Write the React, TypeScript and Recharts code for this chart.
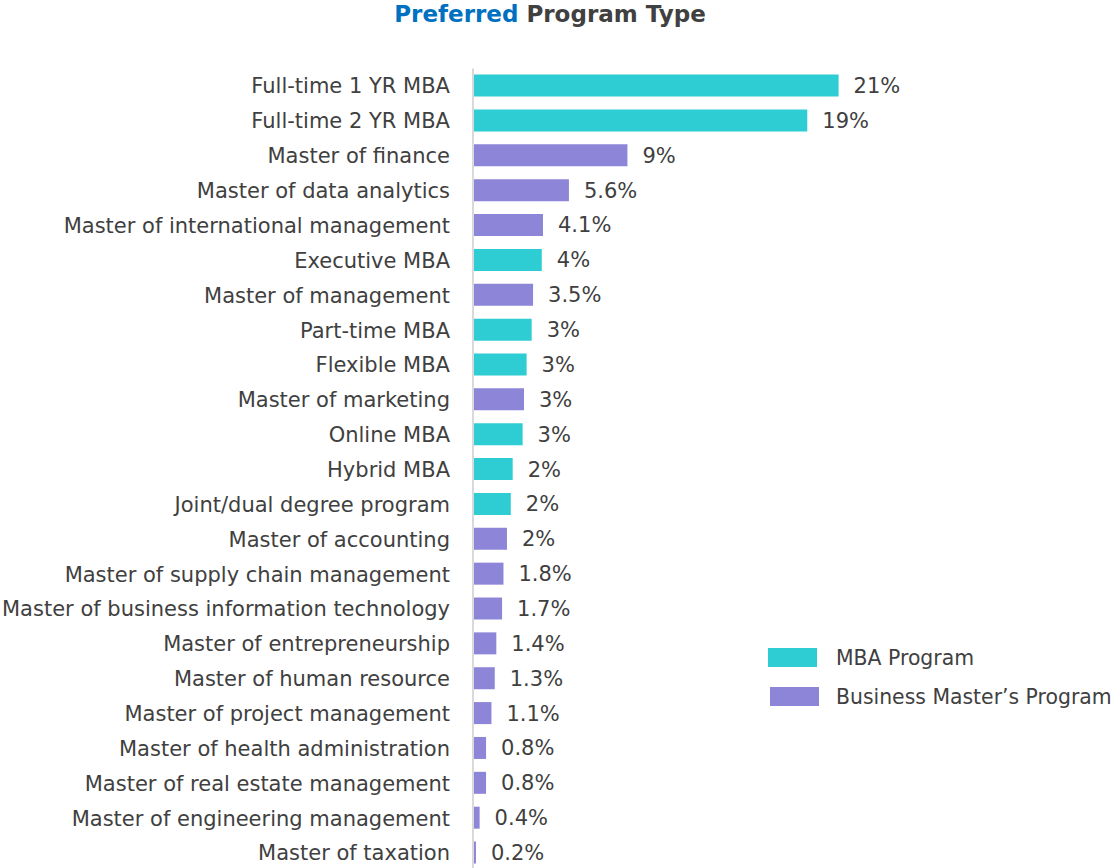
import { BarChart, Bar, XAxis, YAxis, Cell, LabelList } from "recharts";

// Categories, top to bottom
const programs = [
  "Full-time 1 YR MBA",
  "Full-time 2 YR MBA",
  "Master of finance",
  "Master of data analytics",
  "Master of international management",
  "Executive MBA",
  "Master of management",
  "Part-time MBA",
  "Flexible MBA",
  "Master of marketing",
  "Online MBA",
  "Hybrid MBA",
  "Joint/dual degree program",
  "Master of accounting",
  "Master of supply chain management",
  "Master of business information technology",
  "Master of entrepreneurship",
  "Master of human resource",
  "Master of project management",
  "Master of health administration",
  "Master of real estate management",
  "Master of engineering management",
  "Master of taxation",
];

// share (%)
const shares = [
  21.0, 19.2, 8.87, 5.51, 4.02, 3.95, 3.45, 3.37, 3.08, 2.93, 2.85, 2.28,
  2.17, 1.95, 1.75, 1.67, 1.34, 1.25, 1.06, 0.75, 0.75, 0.38, 0.17,
];

// printed labels
const shareLabels = [
  "21%", "19%", "9%", "5.6%", "4.1%", "4%", "3.5%", "3%", "3%", "3%", "3%", "2%",
  "2%", "2%", "1.8%", "1.7%", "1.4%", "1.3%", "1.1%", "0.8%", "0.8%", "0.4%", "0.2%",
];

// "mba" or "master"
const programGroup = [
  "mba", "mba", "master", "master", "master", "mba", "master", "mba", "mba", "master", "mba", "mba",
  "mba", "master", "master", "master", "master", "master", "master", "master", "master", "master", "master",
];

const COLORS: Record<string, string> = {
  mba: "#2ECCD3",
  master: "#8C85D8",
};

const FONT = "'DejaVu Sans', Verdana, sans-serif";
const TEXT = "#404040";

const data = programs.map((name, i) => ({
  name,
  value: shares[i],
  label: shareLabels[i],
  group: programGroup[i],
}));

function LegendBox() {
  const items = [
    { label: "MBA Program", color: COLORS.mba, dx: 0 },
    { label: "Business Master’s Program", color: COLORS.master, dx: 2 },
  ];
  return (
    <div style={{ position: "absolute", left: 768, top: 638, fontFamily: FONT, fontSize: 20.4, color: TEXT }}>
      {items.map((it) => (
        <div key={it.label} style={{ display: "flex", alignItems: "center", height: 39 }}>
          <div style={{ width: 49, height: 19, background: it.color, marginLeft: it.dx, marginRight: 19 - it.dx }} />
          <span style={{ whiteSpace: "nowrap" }}>{it.label}</span>
        </div>
      ))}
    </div>
  );
}

export default function App() {
  return (
    <div style={{ position: "absolute", left: 0, top: 0, width: 1116, height: 880, background: "#fff", overflow: "hidden" }}>
      <div
        style={{
          position: "absolute",
          top: 0,
          left: 0,
          width: 1100,
          textAlign: "center",
          fontFamily: FONT,
          fontWeight: "bold",
          fontSize: 23,
          lineHeight: "28px",
          color: TEXT,
        }}
      >
        <span style={{ color: "#0070C0" }}>Preferred</span> Program Type
      </div>
      <BarChart
        width={1116}
        height={880}
        layout="vertical"
        data={data}
        margin={{ top: 68.6, right: 120.7, bottom: 9.6, left: 0 }}
        barSize={22}
      >
        <XAxis type="number" domain={[0, 30]} hide />
        <YAxis
          type="category"
          dataKey="name"
          width={473}
          tickLine={false}
          tickSize={0}
          tickMargin={23}
          axisLine={{ stroke: "#D9D9D9", strokeWidth: 2 }}
          interval={0}
          tick={{ fill: TEXT, fontSize: 21, fontFamily: FONT }}
        />
        <Bar dataKey="value" isAnimationActive={false}>
          {data.map((d, i) => (
            <Cell key={`c-${i}`} fill={COLORS[d.group]} />
          ))}
          <LabelList
            dataKey="label"
            position="right"
            offset={15}
            style={{ fill: TEXT, fontSize: 21, fontFamily: FONT }}
          />
        </Bar>
      </BarChart>
      <LegendBox />
    </div>
  );
}
